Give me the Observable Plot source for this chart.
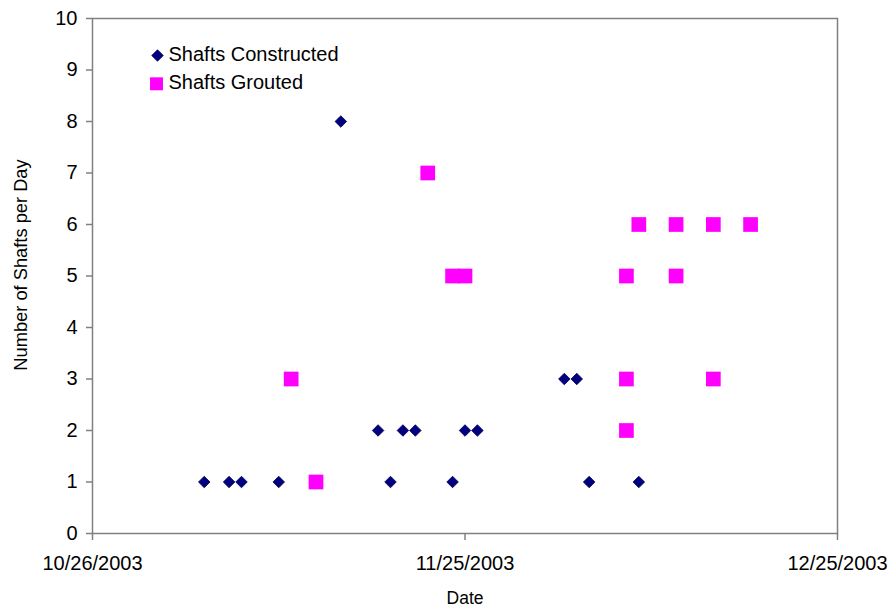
<!DOCTYPE html>
<html>
<head>
<meta charset="utf-8">
<script src="https://cdn.jsdelivr.net/npm/d3@7"></script>
<script src="https://cdn.jsdelivr.net/npm/@observablehq/plot@0.6"></script>
<style>
  html, body { margin: 0; padding: 0; background: #ffffff; }
  #chart { width: 891px; height: 610px; }
</style>
</head>
<body>
<div id="chart"></div>
<script>
// ---- Data ----
const constructedDates = ["11/04/2003","11/06/2003","11/07/2003","11/10/2003","11/15/2003","11/18/2003","11/19/2003","11/20/2003","11/21/2003","11/24/2003","11/25/2003","11/26/2003","12/03/2003","12/04/2003","12/05/2003","12/09/2003"];
const constructedValues = [1, 1, 1, 1, 8, 2, 1, 2, 2, 1, 2, 2, 3, 3, 1, 1];

const groutedDates = ["11/11/2003","11/13/2003","11/22/2003","11/24/2003","11/25/2003","12/08/2003","12/08/2003","12/08/2003","12/09/2003","12/12/2003","12/12/2003","12/15/2003","12/15/2003","12/18/2003"];
const groutedValues = [3, 1, 7, 5, 5, 5, 3, 2, 6, 6, 5, 6, 3, 6];

const xTickLabels = ["10/26/2003", "11/25/2003", "12/25/2003"];
const yTicks = [0, 1, 2, 3, 4, 5, 6, 7, 8, 9, 10];
const seriesNames = ["Shafts Constructed", "Shafts Grouted"];
const xTitle = "Date";
const yTitle = "Number of Shafts per Day";

// ---- Build tables ----
const parse = d3.utcParse("%m/%d/%Y");
const fmt = d3.utcFormat("%m/%d/%Y");
const constructed = constructedDates.map((d, i) => ({date: parse(d), value: constructedValues[i]}));
const grouted = groutedDates.map((d, i) => ({date: parse(d), value: groutedValues[i]}));
const xTicks = xTickLabels.map(parse);

const navy = "#000080";
const magenta = "#FF00FF";
const axisGray = "#808080";
const font = "'Liberation Sans', Arial, sans-serif";

const chart = Plot.plot({
  width: 891,
  height: 610,
  marginLeft: 92,
  marginRight: 54,
  marginTop: 18,
  marginBottom: 77,
  style: {fontFamily: font, fontSize: "20px", color: "#000", background: "#fff"},
  x: {type: "utc", domain: [xTicks[0], xTicks[xTicks.length - 1]]},
  y: {domain: [0, 10]},
  marks: [
    Plot.frame({stroke: axisGray, strokeWidth: 1.5}),
    Plot.axisY({ticks: yTicks, tickSize: 6, tickPadding: 9, stroke: axisGray, strokeWidth: 1.5, fill: "#000", fontSize: 20, label: null}),
    Plot.axisX({ticks: xTicks, tickFormat: d => fmt(d), tickSize: 7, tickPadding: 15, stroke: axisGray, strokeWidth: 1.5, fill: "#000", fontSize: 20, label: null}),
    // axis titles
    Plot.text([xTitle], {text: d => d, frameAnchor: "bottom", dy: 65, lineAnchor: "middle", fontSize: 17.5, fill: "#000"}),
    Plot.text([yTitle], {text: d => d, frameAnchor: "left", rotate: -90, dx: -71, dy: -11, lineAnchor: "middle", textAnchor: "middle", fontSize: 18.3, fill: "#000"}),
    // data
    Plot.dot(grouted, {x: "date", y: "value", symbol: "square", r: 8.3, fill: magenta, stroke: null}),
    Plot.dot(constructed, {x: "date", y: "value", symbol: "diamond2", r: 5.2, fill: navy, stroke: "#000050", strokeWidth: 0.8}),
    // legend
    Plot.dot([seriesNames[0]], {frameAnchor: "top-left", dx: 65, dy: 37, symbol: "diamond2", r: 5.2, fill: navy, stroke: "#000050", strokeWidth: 0.8}),
    Plot.text([seriesNames[0]], {text: d => d, frameAnchor: "top-left", dx: 76, dy: 36.5, textAnchor: "start", lineAnchor: "middle", fontSize: 20, fill: "#000"}),
    Plot.dot([seriesNames[1]], {frameAnchor: "top-left", dx: 64, dy: 65.3, symbol: "square", r: 7.3, fill: magenta, stroke: null}),
    Plot.text([seriesNames[1]], {text: d => d, frameAnchor: "top-left", dx: 76, dy: 64, textAnchor: "start", lineAnchor: "middle", fontSize: 20, fill: "#000"})
  ]
});
document.getElementById("chart").appendChild(chart);
</script>
</body>
</html>
